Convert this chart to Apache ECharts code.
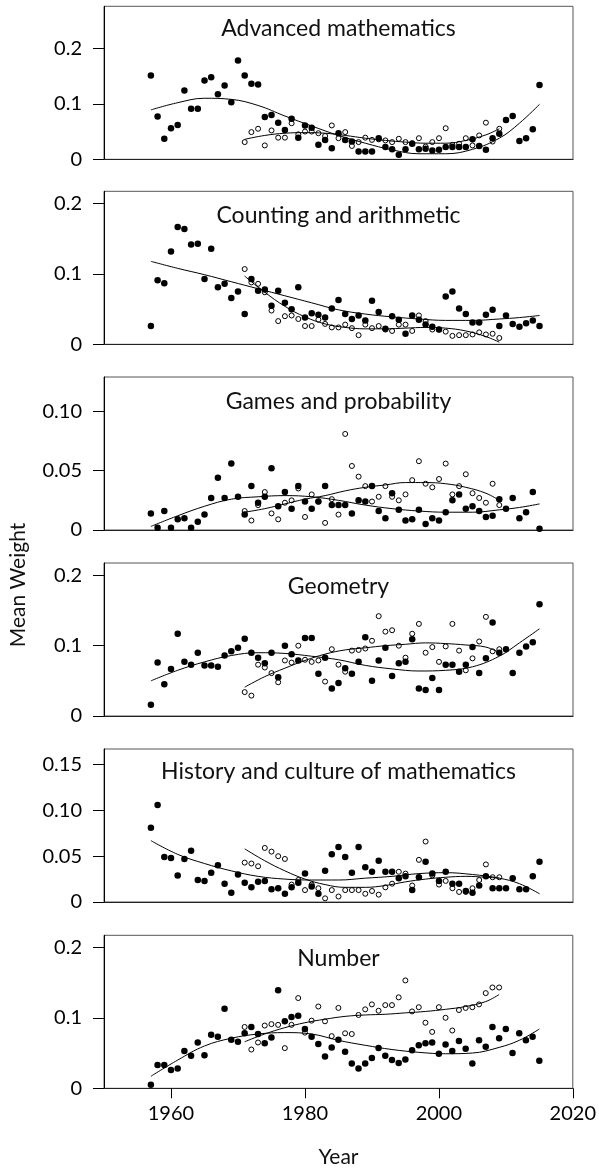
<!DOCTYPE html>
<html>
<head>
<meta charset="utf-8">
<title>Mean Weight by Year</title>
<script src="https://cdn.jsdelivr.net/npm/echarts@6/dist/echarts.min.js"></script>
<style>
  html, body { margin: 0; padding: 0; background: #fff; }
  #chart { width: 599px; height: 1171px; }
</style>
</head>
<body>
<div id="chart"></div>
<script>
// --- DATA ---
const filledYears = [1957, 1958, 1959, 1960, 1961, 1962, 1963, 1964, 1965, 1966,
  1967, 1968, 1969, 1970, 1971, 1972, 1973, 1974, 1975, 1976,
  1977, 1978, 1979, 1980, 1981, 1982, 1983, 1984, 1985, 1986,
  1987, 1988, 1989, 1990, 1991, 1992, 1993, 1994, 1995, 1996,
  1997, 1998, 1999, 2000, 2001, 2002, 2003, 2004, 2005, 2006,
  2007, 2008, 2009, 2010, 2011, 2012, 2013, 2014, 2015];
const openYears = [1971, 1972, 1973, 1974, 1975, 1976, 1977, 1978, 1979, 1980,
  1981, 1982, 1983, 1984, 1985, 1986, 1987, 1988, 1989, 1990,
  1991, 1992, 1993, 1994, 1995, 1996, 1997, 1998, 1999, 2000,
  2001, 2002, 2003, 2004, 2005, 2006, 2007, 2008, 2009];
const filledFitYears = [1957, 1961, 1965, 1969, 1973, 1977, 1981, 1985, 1989, 1993, 1997, 2001, 2005, 2009, 2012, 2015];
const openFitYears = [1971, 1974, 1977, 1980, 1983, 1986, 1989, 1992, 1995, 1998, 2001, 2004, 2007, 2009];

const panelTitles = ['Advanced mathematics', 'Counting and arithmetic', 'Games and probability',
  'Geometry', 'History and culture of mathematics', 'Number'];

// Advanced mathematics
const advFilled = [.151, .077, .037, .056, .062, .124, .091, .091, .142, .148,
  .117, .133, .103, .178, .151, .136, .135, .076, .080, .066,
  .053, .073, .039, .061, .057, .026, .035, .020, .047, .035,
  .032, .014, .014, .014, .038, .022, .018, .008, .018, .028,
  .018, .019, .016, .017, .022, .022, .022, .022, .036, .024,
  .017, .038, .046, .071, .078, .033, .038, .054, .134];
const advOpen = [.031, .049, .055, .025, .052, .039, .039, .065, .045, .050,
  .050, .047, .042, .061, .038, .049, .024, .031, .039, .035,
  .036, .034, .031, .037, .031, .029, .038, .023, .031, .038,
  .056, .026, .028, .038, .025, .043, .066, .032, .055];
const advFilledFit = [.089, .102, .110, .108, .097, .078, .060, .043, .029, .017, .010, .010, .018, .038, .065, .099];
const advOpenFit = [.036, .043, .047, .048, .047, .043, .038, .034, .031, .029, .029, .034, .044, .055];

// Counting and arithmetic
const cntFilled = [.026, .091, .087, .132, .167, .164, .142, .143, .093, .136,
  .081, .086, .066, .075, .043, .093, .076, .078, .055, .076,
  .059, .050, .081, .038, .044, .042, .038, .051, .063, .043,
  .036, .041, .034, .062, .046, .022, .040, .035, .015, .041,
  .035, .028, .025, .021, .068, .075, .051, .043, .031, .031,
  .042, .049, .026, .041, .029, .025, .030, .034, .026];
const cntOpen = [.107, .088, .086, .074, .048, .033, .040, .041, .036, .026,
  .026, .035, .029, .024, .024, .028, .023, .013, .028, .023,
  .026, .021, .019, .028, .028, .019, .041, .033, .021, .021,
  .018, .012, .013, .013, .014, .017, .014, .015, .009];
const cntFilledFit = [.118, .108, .099, .089, .079, .069, .059, .049, .043, .039, .036, .034, .034, .036, .038, .041];
const cntOpenFit = [.097, .074, .054, .039, .029, .024, .022, .022, .023, .024, .023, .019, .011, .003];

// Games and probability
const gamFilled = [.014, .002, .016, .002, .009, .010, .002, .007, .013, .027,
  .044, .027, .056, .028, .013, .037, .023, .028, .052, .020,
  .032, .018, .037, .024, .018, .024, .037, .021, .021, .021,
  .014, .025, .024, .037, .016, .010, .031, .017, .008, .009,
  .017, .005, .010, .008, .015, .025, .030, .018, .020, .016,
  .011, .012, .026, .018, .027, .010, .015, .032, .001];
const gamOpen = [.016, .008, .021, .032, .014, .009, .023, .025, .035, .011,
  .030, .024, .006, .026, .013, .081, .054, .045, .037, .024,
  .028, .037, .028, .025, .030, .042, .058, .039, .036, .043,
  .056, .030, .037, .047, .031, .027, .023, .039, .021];
const gamFilledFit = [.003, .012, .020, .026, .028, .029, .028, .025, .021, .018, .016, .015, .015, .017, .019, .022];
const gamOpenFit = [.015, .018, .022, .026, .029, .033, .036, .038, .040, .040, .039, .036, .031, .025];

// Geometry
const geoFilled = [.016, .076, .045, .067, .117, .077, .073, .090, .072, .072,
  .070, .086, .092, .097, .110, .090, .083, .075, .090, .055,
  .100, .088, .079, .111, .111, .060, .083, .039, .047, .068,
  .060, .077, .112, .050, .079, .097, .057, .075, .077, .109,
  .039, .037, .054, .037, .073, .073, .063, .073, .098, .061,
  .082, .133, .090, .095, .061, .090, .099, .105, .159];
const geoOpen = [.034, .029, .073, .069, .061, .048, .079, .076, .100, .080,
  .077, .079, .049, .095, .073, .063, .093, .094, .096, .107,
  .142, .120, .122, .100, .083, .117, .131, .090, .098, .077,
  .099, .131, .093, .065, .082, .106, .141, .092, .095];
const geoFilledFit = [.050, .065, .077, .086, .090, .089, .085, .080, .072, .067, .064, .065, .070, .085, .104, .124];
const geoOpenFit = [.041, .056, .068, .079, .088, .094, .097, .100, .102, .104, .103, .101, .098, .090];

// History and culture of mathematics
const hisFilled = [.081, .106, .049, .048, .029, .047, .056, .024, .023, .032,
  .040, .020, .010, .030, .021, .016, .022, .023, .014, .015,
  .009, .016, .021, .031, .017, .009, .034, .052, .060, .049,
  .032, .060, .038, .033, .045, .033, .033, .026, .028, .013,
  .027, .044, .031, .023, .033, .020, .020, .012, .010, .018,
  .028, .015, .015, .015, .026, .014, .014, .028, .044];
const hisOpen = [.043, .042, .039, .059, .055, .050, .047, .019, .024, .013,
  .019, .015, .004, .013, .006, .013, .013, .013, .009, .012,
  .008, .016, .020, .033, .031, .018, .046, .066, .029, .019,
  .023, .015, .011, .011, .015, .024, .041, .027, .027];
const hisFilledFit = [.067, .052, .042, .034, .028, .025, .024, .024, .026, .028, .031, .032, .030, .026, .020, .009];
const hisOpenFit = [.058, .045, .034, .025, .019, .016, .016, .018, .022, .025, .027, .028, .027, .026];

// Number
const numFilled = [.005, .033, .033, .026, .028, .053, .046, .065, .047, .076,
  .073, .113, .069, .066, .078, .087, .077, .064, .072, .139,
  .095, .101, .103, .084, .073, .063, .045, .058, .069, .052,
  .035, .028, .035, .043, .057, .046, .040, .036, .041, .054,
  .061, .064, .065, .049, .062, .053, .067, .056, .035, .068,
  .059, .087, .071, .084, .050, .078, .068, .073, .039];
const numOpen = [.087, .055, .065, .089, .091, .090, .057, .090, .128, .079,
  .096, .116, .095, .074, .114, .078, .077, .104, .112, .119,
  .110, .118, .118, .129, .153, .109, .115, .093, .080, .115,
  .100, .082, .111, .114, .115, .119, .135, .143, .143];
const numFilledFit = [.017, .040, .060, .071, .077, .079, .077, .068, .061, .055, .051, .049, .050, .058, .068, .084];
const numOpenFit = [.066, .077, .086, .093, .098, .102, .104, .105, .107, .109, .112, .116, .123, .133];

// axis ticks
const xTicks = [1960, 1980, 2000, 2020];
const xLabels = ['1960', '1980', '2000', '2020'];
const yTicksA = [0, 0.1, 0.2];
const yLabelsA = ['0', '0.1', '0.2'];
const yTicksGames = [0, 0.05, 0.10];
const yLabelsGames = ['0', '0.05', '0.10'];
const yTicksHistory = [0, 0.05, 0.10, 0.15];
const yLabelsHistory = ['0', '0.05', '0.10', '0.15'];
const yMaxes = [0.2757, 0.2176, 0.129, 0.2176, 0.167, 0.217];

// --- LAYOUT ---
const FONT = 'Lato';
const plotLeft = 104;
const plotWidth = 469;
const panelHeight = 153;
const panelBottoms = [159.3, 344.3, 530, 716, 902, 1088.3];
const titleCenters = [28.7, 216, 402, 587, 772, 959];

const panels = [
  { filled: advFilled, open: advOpen, filledFit: advFilledFit, openFit: advOpenFit, ticks: yTicksA, labels: yLabelsA },
  { filled: cntFilled, open: cntOpen, filledFit: cntFilledFit, openFit: cntOpenFit, ticks: yTicksA, labels: yLabelsA },
  { filled: gamFilled, open: gamOpen, filledFit: gamFilledFit, openFit: gamOpenFit, ticks: yTicksGames, labels: yLabelsGames },
  { filled: geoFilled, open: geoOpen, filledFit: geoFilledFit, openFit: geoOpenFit, ticks: yTicksA, labels: yLabelsA },
  { filled: hisFilled, open: hisOpen, filledFit: hisFilledFit, openFit: hisOpenFit, ticks: yTicksHistory, labels: yLabelsHistory },
  { filled: numFilled, open: numOpen, filledFit: numFilledFit, openFit: numOpenFit, ticks: yTicksA, labels: yLabelsA }
];

const zip = (xs, ys) => xs.map((x, i) => [x, ys[i]]);
const pickLabel = (ticks, labels) => v => {
  const i = ticks.findIndex(t => Math.abs(t - v) < 1e-9);
  return i >= 0 ? labels[i] : '';
};

const grids = [], xAxes = [], yAxes = [], series = [], graphics = [];

panels.forEach((p, i) => {
  const isLast = i === panels.length - 1;
  grids.push({
    left: plotLeft, width: plotWidth,
    top: panelBottoms[i] - panelHeight, height: panelHeight,
    show: true, borderColor: '#555', borderWidth: 1, backgroundColor: 'transparent'
  });
  xAxes.push({
    gridIndex: i, type: 'value', min: 1950, max: 2020,
    axisLine: { show: true, onZero: false, lineStyle: { color: '#222', width: 1 } },
    axisTick: { show: isLast, length: 10, lineStyle: { color: '#000' }, customValues: xTicks },
    axisLabel: {
      show: isLast, customValues: xTicks, margin: 15, color: '#000', fontFamily: FONT, fontSize: 20,
      formatter: pickLabel(xTicks, xLabels)
    },
    splitLine: { show: false }
  });
  yAxes.push({
    gridIndex: i, type: 'value', min: 0, max: yMaxes[i],
    axisLine: { show: true, onZero: false, lineStyle: { color: '#000', width: 1 } },
    axisTick: { show: true, length: 11, lineStyle: { color: '#000' }, customValues: p.ticks },
    axisLabel: {
      customValues: p.ticks, margin: 22, color: '#000', fontFamily: FONT, fontSize: 20,
      formatter: pickLabel(p.ticks, p.labels)
    },
    splitLine: { show: false }
  });
  series.push({
    type: 'scatter', xAxisIndex: i, yAxisIndex: i, z: 2,
    symbol: 'circle', symbolSize: 6.5,
    itemStyle: { color: '#000', opacity: 1 },
    data: zip(filledYears, p.filled)
  });
  series.push({
    type: 'scatter', xAxisIndex: i, yAxisIndex: i, z: 3,
    symbol: 'circle', symbolSize: 5,
    itemStyle: { color: 'rgba(0,0,0,0)', borderColor: '#000', borderWidth: 1, opacity: 1 },
    data: zip(openYears, p.open)
  });
  series.push({
    type: 'line', xAxisIndex: i, yAxisIndex: i, z: 4, smooth: 0.4,
    showSymbol: false, lineStyle: { color: '#000', width: 1 },
    data: zip(filledFitYears, p.filledFit)
  });
  series.push({
    type: 'line', xAxisIndex: i, yAxisIndex: i, z: 4, smooth: 0.4,
    showSymbol: false, lineStyle: { color: '#000', width: 1 },
    data: zip(openFitYears, p.openFit)
  });
  graphics.push({
    type: 'text', x: plotLeft + plotWidth / 2, y: titleCenters[i],
    style: { text: panelTitles[i], fill: '#111', font: '23px ' + FONT, textAlign: 'center', textVerticalAlign: 'middle' }
  });
});

graphics.push({
  type: 'text', x: plotLeft + plotWidth / 2, y: 1157,
  style: { text: 'Year', fill: '#111', font: '21px ' + FONT, textAlign: 'center', textVerticalAlign: 'middle' }
});
graphics.push({
  type: 'text', x: 18, y: 585, rotation: Math.PI / 2,
  style: { text: 'Mean Weight', fill: '#111', font: '21px ' + FONT, textAlign: 'center', textVerticalAlign: 'middle' }
});

const chart = echarts.init(document.getElementById('chart'), null, { renderer: 'canvas' });
chart.setOption({
  animation: false,
  backgroundColor: '#fff',
  grid: grids,
  xAxis: xAxes,
  yAxis: yAxes,
  series: series,
  graphic: graphics
});
</script>
</body>
</html>
